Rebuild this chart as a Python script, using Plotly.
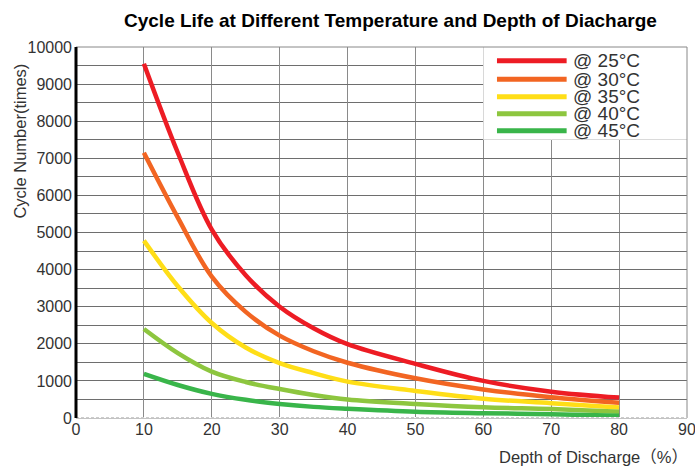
import plotly.graph_objects as go

# ---- data ----
dod = [10, 15, 20, 25, 30, 35, 40, 50, 60, 70, 80]
series_names = ["@ 25°C", "@ 30°C", "@ 35°C", "@ 40°C", "@ 45°C"]
cycles_25 = [9550, 7150, 5080, 3850, 3000, 2420, 1990, 1460, 1000, 710, 550]
cycles_30 = [7150, 5400, 3810, 2860, 2220, 1800, 1490, 1070, 770, 560, 410]
cycles_35 = [4780, 3550, 2560, 1900, 1480, 1210, 980, 730, 520, 400, 280]
cycles_40 = [2400, 1750, 1250, 970, 780, 620, 500, 380, 290, 240, 170]
cycles_45 = [1190, 890, 650, 490, 380, 300, 250, 170, 130, 100, 60]
series_values = [cycles_25, cycles_30, cycles_35, cycles_40, cycles_45]
colors = ["#ED1C24", "#F26522", "#FFDE17", "#8DC63F", "#39B54A"]
x_ticks = [0, 10, 20, 30, 40, 50, 60, 70, 80, 90]
y_ticks = [0, 1000, 2000, 3000, 4000, 5000, 6000, 7000, 8000, 9000, 10000]
y_tick_labels = [str(v) for v in y_ticks]

FONT = "Liberation Sans, Arial, Noto Sans CJK SC, sans-serif"
TXT = "#333333"

fig = go.Figure()
for name, vals, col in zip(series_names, series_values, colors):
    fig.add_trace(go.Scatter(x=dod, y=vals, mode="lines", name=name,
                             line=dict(color=col, width=4.5, shape="spline", smoothing=1.0),
                             showlegend=False))

shapes = []
# white legend box
shapes.append(dict(type="rect", xref="x", yref="y", x0=60, x1=90, y0=7500, y1=10000,
                   fillcolor="white", line=dict(width=0), layer="above"))
# legend samples
leg_y = [0.963, 0.913, 0.866, 0.820, 0.774]
annotations = []
for name, col, yy in zip(series_names, colors, leg_y):
    shapes.append(dict(type="line", xref="paper", yref="paper", x0=0.689, x1=0.803,
                       y0=yy, y1=yy, line=dict(color=col, width=5), layer="above"))
    annotations.append(dict(text=name, xref="paper", yref="paper", x=0.810, y=yy,
                            xanchor="left", yanchor="middle", showarrow=False,
                            font=dict(family=FONT, size=19, color=TXT)))
# plot border (top/right)
shapes.append(dict(type="rect", xref="paper", yref="paper", x0=0, x1=1, y0=0, y1=1,
                   line=dict(color="#888888", width=1), layer="above"))
# bottom baseline: white cover then dashed gray
shapes.append(dict(type="line", xref="paper", yref="y", x0=0, x1=1, y0=0, y1=0,
                   line=dict(color="white", width=2), layer="above"))
shapes.append(dict(type="line", xref="paper", yref="y", x0=0, x1=1, y0=0, y1=0,
                   line=dict(color="#999999", width=1, dash="3px,2px"), layer="above"))
# left axis line
shapes.append(dict(type="line", xref="paper", yref="paper", x0=0, x1=0, y0=0, y1=1,
                   line=dict(color="black", width=3), layer="above"))

annotations.append(dict(text="Cycle Life at Different Temperature and Depth of Diacharge",
                        xref="paper", yref="paper", x=0.5, y=1.0, yshift=27, xshift=9,
                        xanchor="center", yanchor="middle", showarrow=False,
                        font=dict(family=FONT, size=19, color="black", weight="bold")))
annotations.append(dict(text="Cycle Number(times)", xref="paper", yref="paper",
                        x=-0.0917, y=0.962, xanchor="center", yanchor="top",
                        textangle=-90, showarrow=False,
                        font=dict(family=FONT, size=16.5, color=TXT)))
annotations.append(dict(text="Depth of Discharge（%）", xref="paper", yref="paper",
                        x=1.005, y=0, yshift=-39, xanchor="right", yanchor="middle",
                        showarrow=False, font=dict(family=FONT, size=16.5, color=TXT)))

fig.update_layout(
    width=695, height=466,
    margin=dict(l=76, r=8, t=47, b=48, autoexpand=False),
    paper_bgcolor="white", plot_bgcolor="white",
    shapes=shapes, annotations=annotations,
    xaxis=dict(range=[0, 90], tickvals=x_ticks, showgrid=True, gridcolor="#8a8a8a",
               gridwidth=1, zeroline=False, showline=False, ticks="",
               ticklabeloverflow="allow", automargin=False,
               tickfont=dict(family=FONT, size=16, color=TXT)),
    yaxis=dict(range=[0, 10000], tickvals=y_ticks, ticktext=y_tick_labels,
               showgrid=True, gridcolor="#6e6e6e",
               gridwidth=1, zeroline=False, showline=False, ticks="",
               ticklabelstandoff=3, ticklabeloverflow="allow", automargin=False,
               minor=dict(dtick=500, tick0=0, showgrid=True, gridcolor="#6e6e6e", gridwidth=1),
               tickfont=dict(family=FONT, size=16, color=TXT)),
)

fig.write_html("out.html", config={"displayModeBar": False},
               post_script="document.body.style.margin='0';document.body.style.padding='0';")
